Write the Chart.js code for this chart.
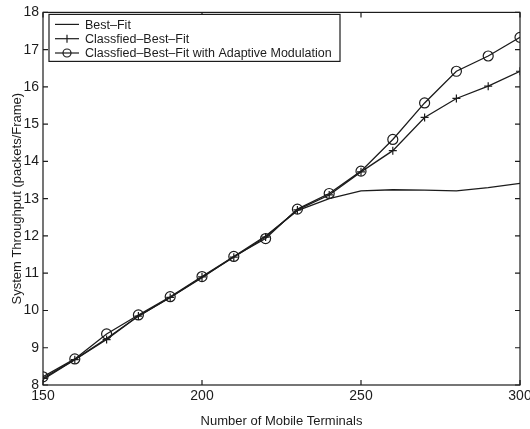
<!DOCTYPE html>
<html>
<head>
<meta charset="utf-8">
<script src="https://cdn.jsdelivr.net/npm/chart.js@4.4.0/dist/chart.umd.min.js"></script>
<style>
  html, body { margin: 0; padding: 0; background: #fff; }
  #wrap { width: 530px; height: 429px; position: relative; }
</style>
</head>
<body>
<div id="wrap"><canvas id="chart" width="530" height="429"></canvas></div>
<script>
// Number of mobile terminals
const terminals = [150, 160, 170, 180, 190, 200, 210, 220, 230, 240, 250, 260, 270, 280, 290, 300];

// System throughput (packets/frame)
const bestFit = [8.15, 8.68, 9.25, 9.85, 10.35, 10.88, 11.45, 12.0, 12.68, 13.0, 13.21, 13.24, 13.23, 13.21, 13.3, 13.41];
const classBestFit = [8.18, 8.68, 9.22, 9.85, 10.35, 10.9, 11.43, 11.97, 12.7, 13.1, 13.72, 14.29, 15.18, 15.69, 16.02, 16.42];
const classAdaptive = [8.22, 8.7, 9.37, 9.88, 10.37, 10.91, 11.45, 11.93, 12.72, 13.14, 13.74, 14.59, 15.57, 16.42, 16.83, 17.33];

const seriesLabels = ['Best\u2013Fit', 'Classfied\u2013Best\u2013Fit', 'Classfied\u2013Best\u2013Fit with Adaptive Modulation'];
const xTicks = [150, 200, 250, 300];
const yTicks = [8, 9, 10, 11, 12, 13, 14, 15, 16, 17, 18];

const ink = '#1c1c1c';

function toPoints(ys) {
  return terminals.map((x, i) => ({ x: x, y: ys[i] }));
}

// box around the plot, inward ticks on all four sides, legend in the top left
const matlabFrame = {
  id: 'matlabFrame',
  afterDraw(chart) {
    const ctx = chart.ctx;
    const a = chart.chartArea;
    const xs = chart.scales.x;
    const ys = chart.scales.y;
    ctx.save();
    ctx.strokeStyle = ink;
    ctx.lineWidth = 1.2;
    ctx.strokeRect(a.left, a.top, a.right - a.left, a.bottom - a.top);

    const len = 5;
    ctx.beginPath();
    xTicks.forEach(v => {
      const px = xs.getPixelForValue(v);
      ctx.moveTo(px, a.bottom); ctx.lineTo(px, a.bottom - len);
      ctx.moveTo(px, a.top); ctx.lineTo(px, a.top + len);
    });
    yTicks.forEach(v => {
      const py = ys.getPixelForValue(v);
      ctx.moveTo(a.left, py); ctx.lineTo(a.left + len, py);
      ctx.moveTo(a.right, py); ctx.lineTo(a.right - len, py);
    });
    ctx.stroke();

    // legend
    const bx = a.left + 6, by = a.top + 2, bw = 291, bh = 47;
    ctx.fillStyle = '#fff';
    ctx.fillRect(bx, by, bw, bh);
    ctx.lineWidth = 1.2;
    ctx.strokeRect(bx, by, bw, bh);
    ctx.font = '12.5px "Liberation Sans", Arial, sans-serif';
    ctx.textBaseline = 'middle';
    chart.data.datasets.forEach((ds, i) => {
      const cy = by + 10 + i * 14.3;
      ctx.strokeStyle = ink;
      ctx.lineWidth = 1.2;
      ctx.beginPath();
      ctx.moveTo(bx + 6, cy); ctx.lineTo(bx + 30, cy);
      ctx.stroke();
      const mx = bx + 18;
      if (ds.pointStyle === 'cross' && ds.pointRadius > 0) {
        ctx.beginPath();
        ctx.moveTo(mx, cy - 4); ctx.lineTo(mx, cy + 4);
        ctx.stroke();
      } else if (ds.pointStyle === 'circle' && ds.pointRadius > 0) {
        ctx.beginPath();
        ctx.arc(mx, cy, 4, 0, Math.PI * 2);
        ctx.stroke();
      }
      ctx.fillStyle = ink;
      ctx.fillText(ds.label, bx + 36, cy + 1);
    });
    ctx.restore();
  }
};

new Chart(document.getElementById('chart'), {
  type: 'scatter',
  data: {
    datasets: [
      {
        label: seriesLabels[0],
        data: toPoints(bestFit),
        showLine: true,
        borderColor: ink,
        borderWidth: 1.3,
        pointRadius: 0,
        pointStyle: 'line'
      },
      {
        label: seriesLabels[1],
        data: toPoints(classBestFit),
        showLine: true,
        borderColor: ink,
        borderWidth: 1.3,
        pointStyle: 'cross',
        pointRadius: 4,
        pointBorderWidth: 1.2,
        pointBorderColor: ink,
        pointBackgroundColor: 'transparent'
      },
      {
        label: seriesLabels[2],
        data: toPoints(classAdaptive),
        showLine: true,
        borderColor: ink,
        borderWidth: 1.3,
        pointStyle: 'circle',
        pointRadius: 5,
        pointBorderWidth: 1.2,
        pointBorderColor: ink,
        pointBackgroundColor: 'transparent'
      }
    ]
  },
  options: {
    responsive: false,
    animation: false,
    layout: { padding: { top: 12, right: 10, left: 0, bottom: 0 } },
    plugins: {
      legend: { display: false },
      tooltip: { enabled: false }
    },
    scales: {
      x: {
        type: 'linear',
        min: 150,
        max: 300,
        afterBuildTicks: scale => { scale.ticks = xTicks.map(v => ({ value: v })); },
        afterFit: scale => {
          scale.height = 44;
          scale.paddingLeft = 0;
          scale.paddingRight = 0;
        },
        grid: { display: false, drawTicks: false },
        border: { display: false },
        ticks: {
          color: ink,
          padding: 3,
          font: { family: '"Liberation Sans", Arial, sans-serif', size: 14 }
        },
        title: {
          display: true,
          text: 'Number of Mobile Terminals',
          color: ink,
          padding: { top: 8, bottom: 0 },
          font: { family: '"Liberation Sans", Arial, sans-serif', size: 13 }
        }
      },
      y: {
        type: 'linear',
        min: 8,
        max: 18,
        afterBuildTicks: scale => { scale.ticks = yTicks.map(v => ({ value: v })); },
        afterFit: scale => { scale.width = 43; },
        grid: { display: false, drawTicks: false },
        border: { display: false },
        ticks: {
          color: ink,
          padding: 4,
          font: { family: '"Liberation Sans", Arial, sans-serif', size: 14 }
        },
        title: {
          display: true,
          text: 'System Throughput (packets/Frame)',
          color: ink,
          padding: { top: 10, bottom: 2 },
          font: { family: '"Liberation Sans", Arial, sans-serif', size: 13 }
        }
      }
    }
  },
  plugins: [matlabFrame]
});
</script>
</body>
</html>
